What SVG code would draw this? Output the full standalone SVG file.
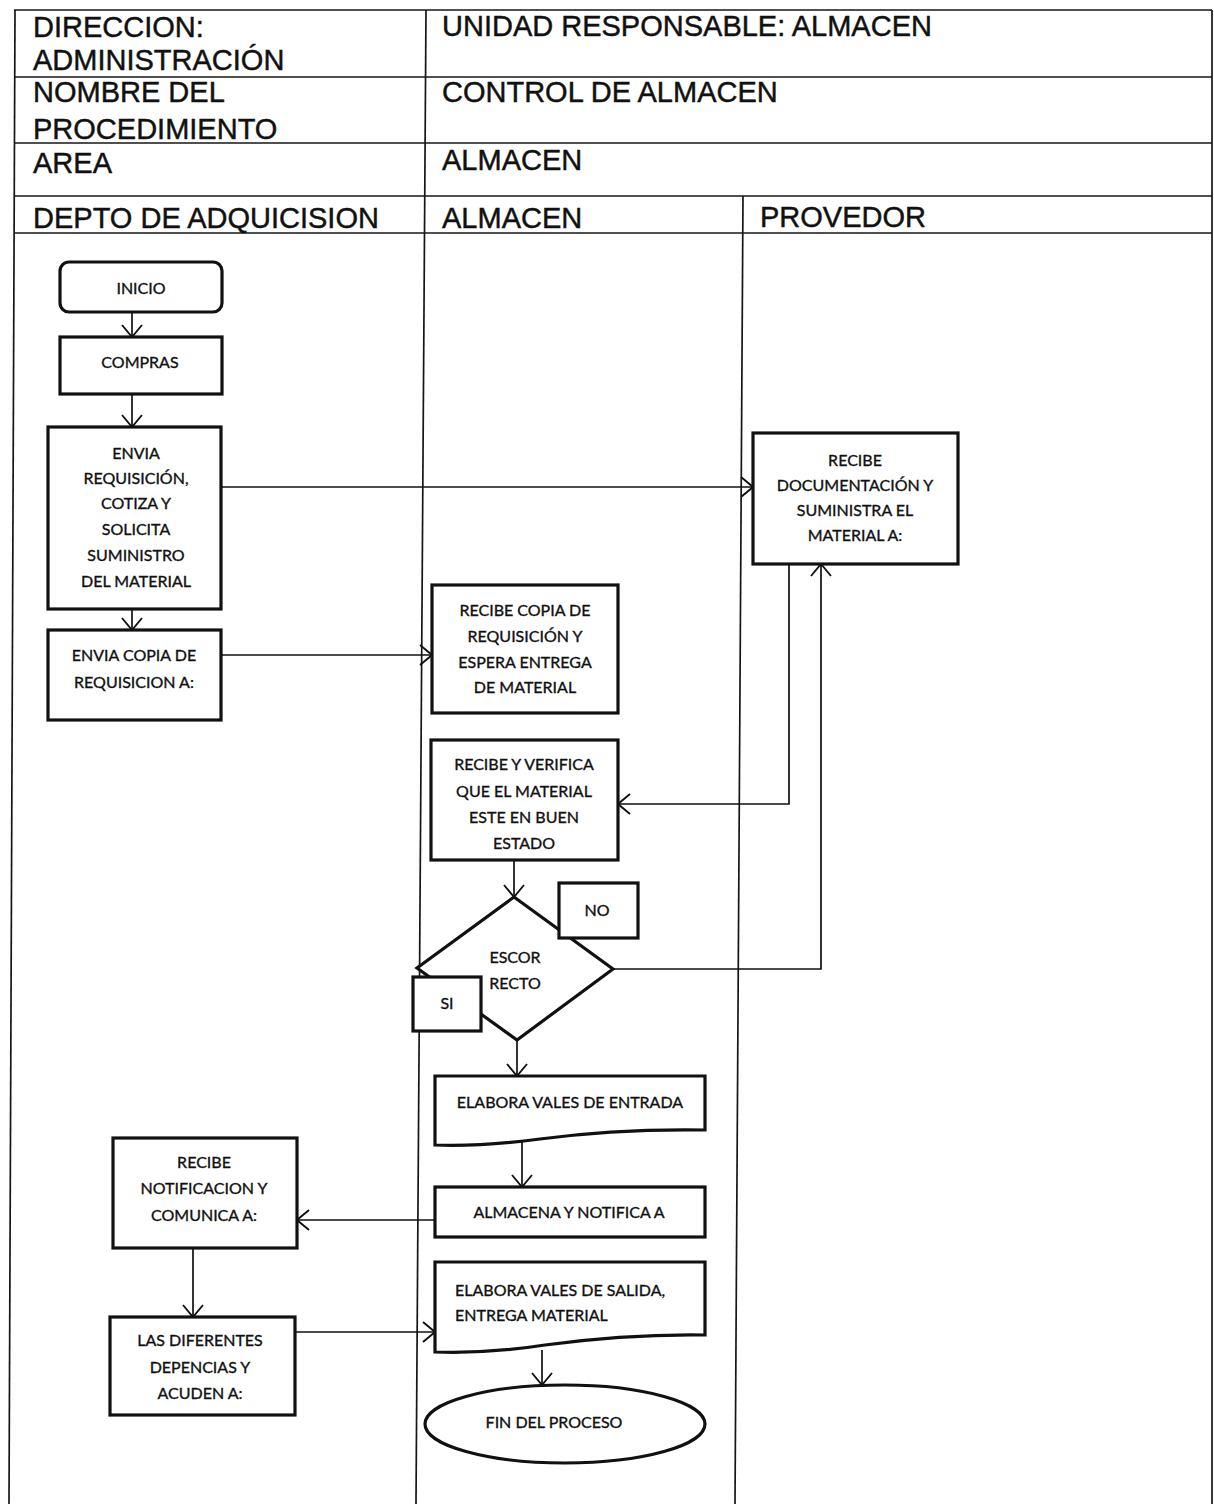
<svg xmlns="http://www.w3.org/2000/svg" width="1214" height="1504" viewBox="0 0 1214 1504">
  <style>
    .grid { stroke: #161616; stroke-width: 1.7; fill: none; }
    .head { font-family: "Liberation Sans", Arial, sans-serif; font-size: 29px; fill: #111; stroke: #111; stroke-width: 0.45; }
    .box { fill: #fff; stroke: #111; stroke-width: 3.2; }
    .lbl { font-family: Lato, "Open Sans", sans-serif; font-size: 16px; fill: #111; stroke: #111; stroke-width: 0.35; text-anchor: middle; }
    .lbl-left { font-family: Lato, "Open Sans", sans-serif; font-size: 16px; fill: #111; stroke: #111; stroke-width: 0.35; }
    .conn { fill: none; stroke: #111; stroke-width: 1.7; marker-end: url(#arrow); }
  </style>
  <defs>
    <marker id="arrow" viewBox="0 0 14 22" refX="13" refY="11" markerWidth="14" markerHeight="22" markerUnits="userSpaceOnUse" orient="auto">
      <path d="M1,1 L13,11 L1,21" fill="none" stroke="#111" stroke-width="1.9"/>
    </marker>
  </defs>

  <rect width="1214" height="1504" fill="#fff"/>

  <!-- header table and swimlane grid -->
  <g id="grid" class="grid">
    <line x1="14" y1="10" x2="1212" y2="10"/>
    <line x1="14" y1="77" x2="1212" y2="77"/>
    <line x1="14" y1="143" x2="1212" y2="143"/>
    <line x1="14" y1="196" x2="1212" y2="196"/>
    <line x1="14" y1="233" x2="1212" y2="233"/>
    <line x1="15" y1="10" x2="9" y2="1504"/>
    <line x1="426" y1="10" x2="416" y2="1504"/>
    <line x1="743" y1="196" x2="735" y2="1504"/>
    <line x1="1212" y1="10" x2="1212" y2="1504"/>
  </g>

  <g id="header">
    <text class="head" x="33" y="37">DIRECCION:</text>
    <text class="head" x="33" y="70">ADMINISTRACIÓN</text>
    <text class="head" x="33" y="102">NOMBRE DEL</text>
    <text class="head" x="33" y="139">PROCEDIMIENTO</text>
    <text class="head" x="33" y="173">AREA</text>
    <text class="head" x="442" y="36">UNIDAD RESPONSABLE: ALMACEN</text>
    <text class="head" x="442" y="102">CONTROL DE ALMACEN</text>
    <text class="head" x="442" y="170">ALMACEN</text>
  </g>

  <g id="lanes">
    <text class="head" x="33" y="228">DEPTO DE ADQUICISION</text>
    <text class="head" x="442" y="228">ALMACEN</text>
    <text class="head" x="760" y="227">PROVEDOR</text>
  </g>

  <!-- connectors -->
  <g id="connectors">
    <path class="conn" d="M132,313 V337"/>
    <path class="conn" d="M132,394 V427"/>
    <path class="conn" d="M132,609 V630"/>
    <path class="conn" d="M221,487 H753"/>
    <path class="conn" d="M221,655 H432"/>
    <path class="conn" d="M789,564 V804 H618"/>
    <path class="conn" d="M514,860 V897"/>
    <path class="conn" d="M613,969 H821 V564"/>
    <path class="conn" d="M517,1040 V1076"/>
    <path class="conn" d="M522,1141 V1187"/>
    <path class="conn" d="M435,1220 H297"/>
    <path class="conn" d="M193,1248 V1317"/>
    <path class="conn" d="M295,1332 H435"/>
    <path class="conn" d="M542,1350 V1385"/>
  </g>

  <!-- nodes -->
  <g id="inicio">
    <rect class="box" x="60" y="262" width="162" height="50" rx="9"/>
    <text class="lbl" x="141" y="294">INICIO</text>
  </g>
  <g id="compras">
    <rect class="box" x="60" y="337" width="162" height="57"/>
    <text class="lbl" x="140" y="368">COMPRAS</text>
  </g>
  <g id="envia-requisicion">
    <rect class="box" x="48" y="427" width="173" height="182"/>
    <text class="lbl" x="136" y="459">ENVIA</text>
    <text class="lbl" x="136" y="484">REQUISICIÓN,</text>
    <text class="lbl" x="136" y="509">COTIZA Y</text>
    <text class="lbl" x="136" y="535">SOLICITA</text>
    <text class="lbl" x="136" y="561">SUMINISTRO</text>
    <text class="lbl" x="136" y="587">DEL MATERIAL</text>
  </g>
  <g id="envia-copia">
    <rect class="box" x="48" y="630" width="173" height="90"/>
    <text class="lbl" x="134" y="661">ENVIA COPIA DE</text>
    <text class="lbl" x="134" y="688">REQUISICION A:</text>
  </g>
  <g id="recibe-documentacion">
    <rect class="box" x="753" y="433" width="205" height="131"/>
    <text class="lbl" x="855" y="466">RECIBE</text>
    <text class="lbl" x="855" y="491">DOCUMENTACIÓN Y</text>
    <text class="lbl" x="855" y="516">SUMINISTRA EL</text>
    <text class="lbl" x="855" y="541">MATERIAL A:</text>
  </g>
  <g id="recibe-copia">
    <rect class="box" x="432" y="585" width="186" height="128"/>
    <text class="lbl" x="525" y="616">RECIBE COPIA DE</text>
    <text class="lbl" x="525" y="642">REQUISICIÓN Y</text>
    <text class="lbl" x="525" y="668">ESPERA ENTREGA</text>
    <text class="lbl" x="525" y="693">DE MATERIAL</text>
  </g>
  <g id="recibe-verifica">
    <rect class="box" x="431" y="740" width="187" height="120"/>
    <text class="lbl" x="524" y="770">RECIBE Y VERIFICA</text>
    <text class="lbl" x="524" y="797">QUE EL MATERIAL</text>
    <text class="lbl" x="524" y="823">ESTE EN BUEN</text>
    <text class="lbl" x="524" y="849">ESTADO</text>
  </g>
  <g id="decision">
    <polygon class="box" points="514,897 613,969 517,1040 417,968"/>
    <text class="lbl" x="515" y="963">ESCOR</text>
    <text class="lbl" x="515" y="989">RECTO</text>
  </g>
  <g id="no">
    <rect class="box" x="559" y="883" width="79" height="55"/>
    <text class="lbl" x="597" y="916">NO</text>
  </g>
  <g id="si">
    <rect class="box" x="413" y="977" width="68" height="54"/>
    <text class="lbl" x="447" y="1009">SI</text>
  </g>
  <g id="vales-entrada">
    <path class="box" d="M435,1076 H705 V1130 C640,1129 585,1133 540,1139 C495,1145 465,1146 435,1145 Z"/>
    <text class="lbl" x="570" y="1108">ELABORA VALES DE ENTRADA</text>
  </g>
  <g id="almacena">
    <rect class="box" x="435" y="1187" width="270" height="50"/>
    <text class="lbl" x="569" y="1218">ALMACENA Y NOTIFICA A</text>
  </g>
  <g id="vales-salida">
    <path class="box" d="M435,1262 H705 V1335 C640,1334 590,1339 545,1345 C500,1352 465,1353 435,1352 Z"/>
    <text class="lbl-left" x="455" y="1296">ELABORA VALES DE SALIDA,</text>
    <text class="lbl-left" x="455" y="1321">ENTREGA MATERIAL</text>
  </g>
  <g id="fin">
    <ellipse class="box" cx="565" cy="1424" rx="140" ry="39"/>
    <text class="lbl" x="554" y="1428">FIN DEL PROCESO</text>
  </g>
  <g id="recibe-notificacion">
    <rect class="box" x="113" y="1138" width="184" height="110"/>
    <text class="lbl" x="204" y="1168">RECIBE</text>
    <text class="lbl" x="204" y="1194">NOTIFICACION Y</text>
    <text class="lbl" x="204" y="1221">COMUNICA A:</text>
  </g>
  <g id="diferentes-dependencias">
    <rect class="box" x="110" y="1317" width="185" height="98"/>
    <text class="lbl" x="200" y="1346">LAS DIFERENTES</text>
    <text class="lbl" x="200" y="1373">DEPENCIAS Y</text>
    <text class="lbl" x="200" y="1399">ACUDEN A:</text>
  </g>
</svg>
